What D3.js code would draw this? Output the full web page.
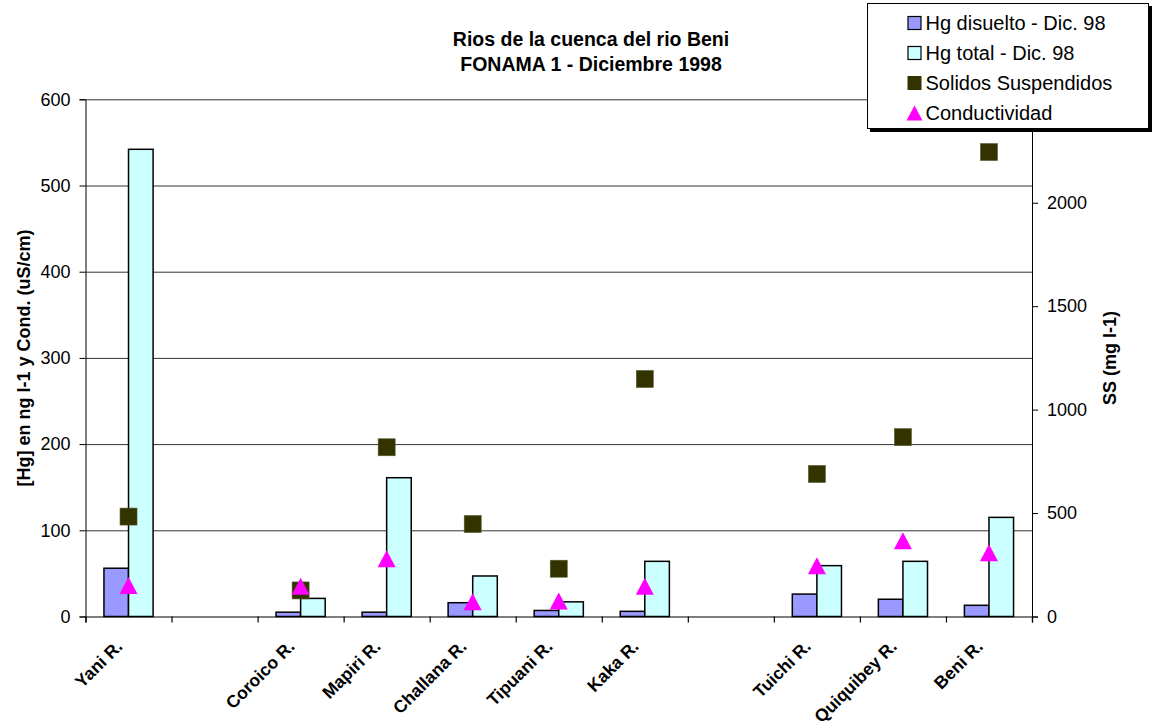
<!DOCTYPE html>
<html><head><meta charset="utf-8">
<script src="https://cdn.jsdelivr.net/npm/d3@7"></script>
<style>
html,body{margin:0;padding:0;background:#fff;}
svg{display:block;font-family:"Liberation Sans",Arial,sans-serif;}
</style></head>
<body><svg id="c" width="1152" height="727"></svg>
<script>
const categories = ["Yani R.","","Coroico R.","Mapiri R.","Challana R.","Tipuani R.","Kaka R.","","Tuichi R.","Quiquibey R.","Beni R."];
const hgDisuelto = [56, null, 5, 5, 16, 7, 6, null, 26, 20, 13];
const hgTotal = [542, null, 21, 161, 47, 17, 64, null, 59, 64, 115];
const solidos = [483, null, 126, 818, 447, 231, 1148, null, 689, 867, 2245];
const conductividad = [36, null, 35, 67, 17, 18, 35, null, 59, 88, 74];
const leftTicks = [0,100,200,300,400,500,600];
const rightTicks = [0,500,1000,1500,2000];
const seriesNames = ["Hg disuelto - Dic. 98","Hg total - Dic. 98","Solidos Suspendidos","Conductividad"];
const titleLines = ["Rios de la cuenca del rio Beni","FONAMA 1 - Diciembre 1998"];
const leftTitle = "[Hg] en ng l-1 y Cond. (uS/cm)";
const rightTitle = "SS (mg l-1)";

const colors = {dis:"#9999FF", tot:"#CCFFFF", ss:"#333300", cond:"#FF00FF"};
const svg = d3.select("#c");
const L=85.5, R=1032, T=99.3, B=616.5;

const x = d3.scaleBand().domain(d3.range(categories.length)).range([L,R]).paddingInner(0).paddingOuter(0);
const xb = d3.scaleLinear().domain([0,categories.length]).range([L,R]);
const xi = d3.scaleBand().domain(["dis","tot"]).range([0,x.bandwidth()]).paddingInner(0).paddingOuter(0.75);
const yL = d3.scaleLinear().domain([0,600]).range([B,T]);
const yR = d3.scaleLinear().domain([0,2500]).range([B,T]);

// gridlines
svg.append("g").attr("transform",`translate(${L},0)`)
  .call(d3.axisLeft(yL).tickValues(leftTicks.slice(1)).tickSize(-(R-L)).tickFormat(""))
  .call(g=>g.select(".domain").remove())
  .call(g=>g.selectAll("line").attr("stroke","#333").attr("stroke-width",1));

// bars
const rows = categories.map((c,i)=>({i,c,dis:hgDisuelto[i],tot:hgTotal[i],ss:solidos[i],cond:conductividad[i]}));
["dis","tot"].forEach(k=>{
  svg.append("g").selectAll("rect").data(rows.filter(d=>d[k]!=null)).join("rect")
    .attr("x",d=>x(d.i)+xi(k)).attr("width",xi.bandwidth())
    .attr("y",d=>yL(d[k])).attr("height",d=>B-yL(d[k]))
    .attr("fill",colors[k]).attr("stroke","#000").attr("stroke-width",1.5);
});

// axes
svg.append("g").attr("transform",`translate(${L},0)`)
  .call(d3.axisLeft(yL).tickValues(leftTicks).tickSize(6).tickPadding(9).tickFormat(d3.format("d")))
  .call(g=>g.selectAll("text").attr("font-size",18).attr("font-family","Liberation Sans, Arial, sans-serif").attr("fill","#000"))
  .call(g=>g.selectAll("line,path").attr("stroke","#000"));
svg.append("g").attr("transform",`translate(${R},0)`)
  .call(d3.axisRight(yR).tickValues(rightTicks).tickSize(6).tickPadding(9).tickFormat(d3.format("d")))
  .call(g=>g.selectAll("text").attr("font-size",18).attr("font-family","Liberation Sans, Arial, sans-serif").attr("fill","#000"))
  .call(g=>g.selectAll("line,path").attr("stroke","#000"));
svg.append("g").attr("transform",`translate(0,${B})`)
  .call(d3.axisBottom(xb).tickValues(d3.range(categories.length+1)).tickSize(6).tickFormat(""))
  .call(g=>g.selectAll("line,path").attr("stroke","#000").attr("stroke-width",1.2));

// x labels
svg.append("g").selectAll("text").data(rows.filter(d=>d.c)).join("text")
  .attr("transform",d=>`translate(${x(d.i)+x.bandwidth()/2-5},${B+31}) rotate(-45)`)
  .attr("text-anchor","end").attr("font-weight","bold").attr("font-size",17.5)
  .text(d=>d.c);

// squares (SS, right axis)
const sq=17;
svg.append("g").selectAll("rect").data(rows.filter(d=>d.ss!=null)).join("rect")
  .attr("x",d=>x(d.i)+x.bandwidth()/2-sq/2).attr("y",d=>yR(d.ss)-sq/2)
  .attr("width",sq).attr("height",sq).attr("fill",colors.ss).attr("stroke","#5a5a30").attr("stroke-width",0.6);

// triangles (conductividad, left axis)
const tri = "M0,-8.5L9,8.5L-9,8.5Z";
svg.append("g").selectAll("path").data(rows.filter(d=>d.cond!=null)).join("path")
  .attr("transform",d=>`translate(${x(d.i)+x.bandwidth()/2},${yL(d.cond)})`)
  .attr("d",tri).attr("fill",colors.cond);

// title
svg.append("g").selectAll("text").data(titleLines).join("text")
  .attr("x",591).attr("y",(d,i)=>46+i*25).attr("text-anchor","middle")
  .attr("font-weight","bold").attr("font-size",19.5).text(d=>d);

// axis titles
svg.append("text").attr("transform",`translate(30,${(T+B)/2}) rotate(-90)`)
  .attr("text-anchor","middle").attr("font-weight","bold").attr("font-size",18).text(leftTitle);
svg.append("text").attr("transform",`translate(1116,${(T+B)/2}) rotate(-90)`)
  .attr("text-anchor","middle").attr("font-weight","bold").attr("font-size",18).text(rightTitle);

// legend
const lg = svg.append("g");
lg.append("rect").attr("x",870).attr("y",6).attr("width",282).attr("height",126).attr("fill","#000");
lg.append("rect").attr("x",867.5).attr("y",3.5).attr("width",281).attr("height",125).attr("fill","#fff").attr("stroke","#000").attr("stroke-width",1);
const items = lg.selectAll("g.item").data(seriesNames).join("g").attr("class","item")
  .attr("transform",(d,i)=>`translate(907,${23+i*30})`);
items.each(function(d,i){
  const g=d3.select(this);
  if(i<2) g.append("rect").attr("x",1).attr("y",-6.5).attr("width",13).attr("height",13)
     .attr("fill",i===0?colors.dis:colors.tot).attr("stroke","#000").attr("stroke-width",1.2);
  else if(i===2) g.append("rect").attr("x",0.5).attr("y",-7).attr("width",14).attr("height",14).attr("fill",colors.ss);
  else g.append("path").attr("transform","translate(7.5,0)").attr("d","M0,-7.5L8,7.5L-8,7.5Z").attr("fill",colors.cond);
  g.append("text").attr("x",18.5).attr("y",7).attr("font-size",20).text(d);
});
</script></body></html>
